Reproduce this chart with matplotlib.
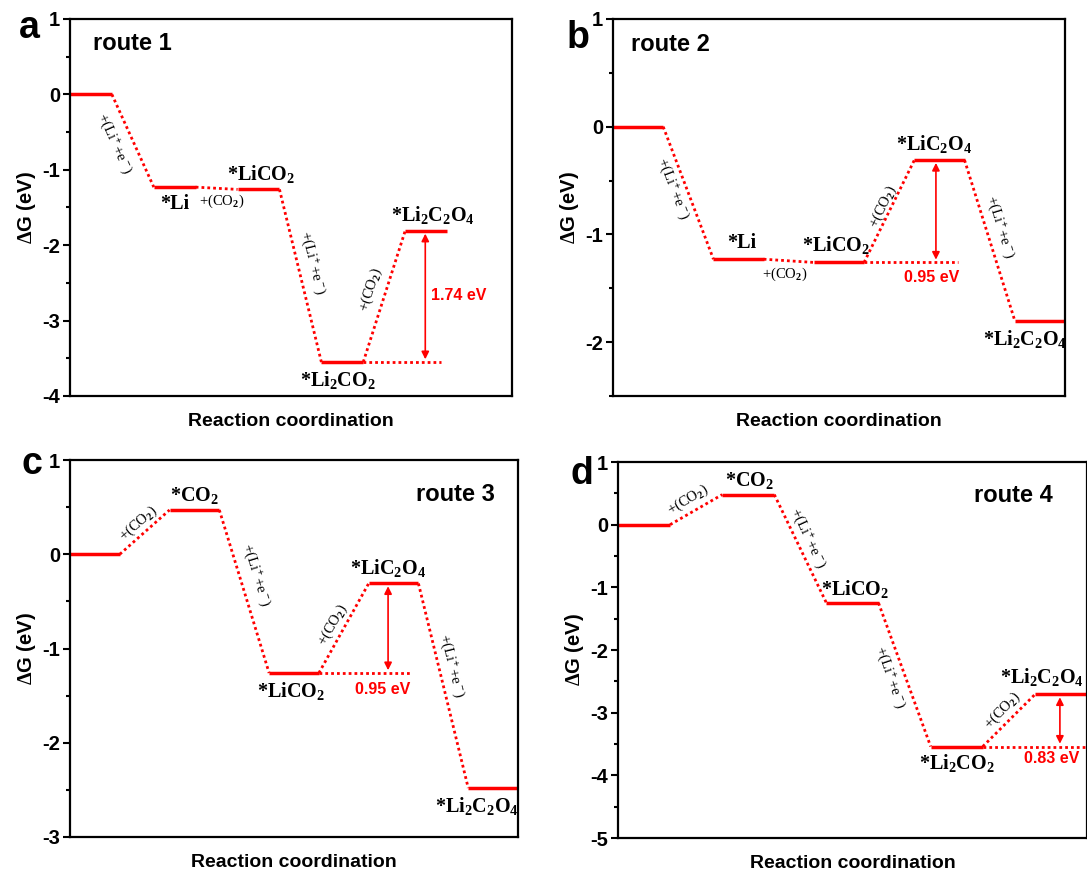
import matplotlib.pyplot as plt
from matplotlib.ticker import MultipleLocator

plt.rcParams['font.family'] = 'Liberation Sans'
plt.rcParams['font.weight'] = 'bold'
plt.rcParams['mathtext.fontset'] = 'custom'
plt.rcParams['mathtext.rm'] = 'Liberation Serif'
plt.rcParams['mathtext.it'] = 'Liberation Serif:italic'
plt.rcParams['mathtext.bf'] = 'Liberation Serif:bold'

# free energies (eV) of each intermediate along the routes
route1_dG = [0, -1.23, -1.26, -3.55, -1.81]
route2_dG = [0, -1.23, -1.26, -0.31, -1.80]
route3_dG = [0, 0.47, -1.26, -0.31, -2.48]
route4_dG = [0, 0.48, -1.25, -3.54, -2.71]

route1_species = ['', '*Li', r'*LiCO$_\mathbf{2}$', r'*Li$_\mathbf{2}$CO$_\mathbf{2}$',
                  r'*Li$_\mathbf{2}$C$_\mathbf{2}$O$_\mathbf{4}$']
route2_species = ['', '*Li', r'*LiCO$_\mathbf{2}$', r'*LiC$_\mathbf{2}$O$_\mathbf{4}$',
                  r'*Li$_\mathbf{2}$C$_\mathbf{2}$O$_\mathbf{4}$']
route3_species = ['', r'*CO$_\mathbf{2}$', r'*LiCO$_\mathbf{2}$', r'*LiC$_\mathbf{2}$O$_\mathbf{4}$',
                  r'*Li$_\mathbf{2}$C$_\mathbf{2}$O$_\mathbf{4}$']
route4_species = ['', r'*CO$_\mathbf{2}$', r'*LiCO$_\mathbf{2}$', r'*Li$_\mathbf{2}$CO$_\mathbf{2}$',
                  r'*Li$_\mathbf{2}$C$_\mathbf{2}$O$_\mathbf{4}$']

LI = r'+(Li$^+$+e$^-$)'
CO2 = r'+(CO$_2$)'
route1_steps = [LI, CO2, LI, CO2]
route2_steps = [LI, CO2, CO2, LI]
route3_steps = [CO2, LI, CO2, LI]
route4_steps = [CO2, LI, LI, CO2]

# barrier: (from level, to level)
route1_barrier = (3, 4)
route2_barrier = (2, 3)
route3_barrier = (2, 3)
route4_barrier = (3, 4)

RED = '#ff0000'
serif = 'Liberation Serif'


def draw_route(ax, dG):
    for i, g in enumerate(dG):
        ax.plot([2 * i, 2 * i + 1], [g, g], color=RED, lw=2.5, solid_capstyle='butt')
        if i > 0:
            ax.plot([2 * i - 1, 2 * i], [dG[i - 1], g], color=RED, lw=2, ls=(0, (1, 1.1)))


def draw_barrier(ax, dG, barrier, x_arrow, x_end, label, label_xy):
    lo, hi = barrier
    ax.plot([2 * lo + 1, x_end], [dG[lo], dG[lo]], color=RED, lw=2, ls=(0, (1, 1.1)))
    ax.annotate('', xy=(x_arrow, dG[hi]), xytext=(x_arrow, dG[lo]),
                arrowprops=dict(arrowstyle='<|-|>', color=RED, lw=1.2,
                                shrinkA=2, shrinkB=2, mutation_scale=11))
    ax.text(label_xy[0], label_xy[1], label, color=RED, fontsize=11.5,
            ha='center', va='center', fontweight='bold')


def style(ax, ylo, yhi, xmax):
    ax.set_xlim(0, xmax)
    ax.set_ylim(ylo, yhi)
    ax.yaxis.set_major_locator(MultipleLocator(1))
    ax.yaxis.set_minor_locator(MultipleLocator(0.5))
    ax.set_xticks([])
    ax.tick_params(axis='y', which='major', direction='out', length=5, width=1.5,
                   labelsize=14.5, pad=2)
    ax.tick_params(axis='y', which='minor', direction='out', length=3, width=1.5)
    for s in ax.spines.values():
        s.set_linewidth(1.6)
    ax.set_ylabel(r'$\mathbf{\Delta}$G (eV)', fontsize=14.5, fontweight='bold',
                  labelpad=3, fontfamily='Liberation Sans')
    ax.set_xlabel('Reaction coordination', fontsize=14, fontweight='bold', labelpad=12)
    ax.yaxis.set_major_formatter(plt.FuncFormatter(lambda v, p: '%d' % v))


def species(ax, x, y, s, va):
    ax.text(x, y, s, fontsize=14.5, fontfamily=serif, fontweight='bold',
            ha='center', va=va)


def step(ax, x, y, s, rot):
    ax.text(x, y, s, fontsize=10.5, fontfamily=serif, fontweight='normal',
            ha='center', va='center', rotation=rot, rotation_mode='anchor')


fig = plt.figure(figsize=(10.87, 8.77), dpi=100)
W, H = 1087, 877


def make_axes(l, r, t, b):
    return fig.add_axes([l / W, 1 - b / H, (r - l) / W, (b - t) / H])


axa = make_axes(70, 512, 19, 396)
axb = make_axes(613, 1065, 19, 396)
axc = make_axes(70, 518, 460, 837)
axd = make_axes(618, 1087, 462, 838)

# ---- route 1
ax = axa
draw_route(ax, route1_dG)
style(ax, -4, 1, 10.55)
species(ax, 2.5, route1_dG[1] - 0.09, route1_species[1], 'top')
species(ax, 4.56, route1_dG[2] + 0.06, route1_species[2], 'bottom')
species(ax, 6.39, route1_dG[3] - 0.09, route1_species[3], 'top')
species(ax, 8.65, route1_dG[4] + 0.07, route1_species[4], 'bottom')
step(ax, 1.07, -0.65, route1_steps[0], -66)
step(ax, 3.62, -1.42, route1_steps[1], 0)
step(ax, 5.79, -2.24, route1_steps[2], -76)
step(ax, 7.18, -2.59, route1_steps[3], 72)
draw_barrier(ax, route1_dG, route1_barrier, 8.48, 8.85, '1.74 eV', (9.27, -2.67))
ax.text(0.56, 0.67, 'route 1', fontsize=17, fontweight='bold', va='center')

# ---- route 2
ax = axb
draw_route(ax, route2_dG)
style(ax, -2.5, 1, 9)
species(ax, 2.57, route2_dG[1] + 0.06, route2_species[1], 'bottom')
species(ax, 4.43, route2_dG[2] + 0.06, route2_species[2], 'bottom')
species(ax, 6.4, route2_dG[3] + 0.05, route2_species[3], 'bottom')
species(ax, 8.2, route2_dG[4] - 0.07, route2_species[4], 'top')
step(ax, 1.2, -0.58, route2_steps[0], -69)
step(ax, 3.42, -1.37, route2_steps[1], 0)
step(ax, 5.37, -0.74, route2_steps[2], 64)
step(ax, 7.7, -0.93, route2_steps[3], -73)
draw_barrier(ax, route2_dG, route2_barrier, 6.43, 6.87, '0.95 eV', (6.35, -1.40))
ax.text(0.35, 0.76, 'route 2', fontsize=17, fontweight='bold', va='center')

# ---- route 3
ax = axc
draw_route(ax, route3_dG)
style(ax, -3, 1, 9)
species(ax, 2.5, route3_dG[1] + 0.04, route3_species[1], 'bottom')
species(ax, 4.43, route3_dG[2] - 0.07, route3_species[2], 'top')
species(ax, 6.39, route3_dG[3] + 0.05, route3_species[3], 'bottom')
species(ax, 8.17, route3_dG[4] - 0.07, route3_species[4], 'top')
step(ax, 1.37, 0.33, route3_steps[0], 41)
step(ax, 3.73, -0.22, route3_steps[1], -73)
step(ax, 5.27, -0.75, route3_steps[2], 60)
step(ax, 7.67, -1.19, route3_steps[3], -76)
draw_barrier(ax, route3_dG, route3_barrier, 6.39, 6.83, '0.95 eV', (6.29, -1.43))
ax.text(8.53, 0.63, 'route 3', fontsize=17, fontweight='bold', va='center', ha='right')

# ---- route 4
ax = axd
draw_route(ax, route4_dG)
style(ax, -5, 1, 9)
species(ax, 2.53, route4_dG[1] + 0.05, route4_species[1], 'bottom')
species(ax, 4.55, route4_dG[2] + 0.05, route4_species[2], 'bottom')
species(ax, 6.51, route4_dG[3] - 0.08, route4_species[3], 'top')
species(ax, 8.13, route4_dG[4] + 0.1, route4_species[4], 'bottom')
step(ax, 1.35, 0.39, route4_steps[0], 31)
step(ax, 3.65, -0.22, route4_steps[1], -65)
step(ax, 5.21, -2.44, route4_steps[2], -71)
step(ax, 7.38, -2.97, route4_steps[3], 46)
draw_barrier(ax, route4_dG, route4_barrier, 8.48, 9.0, '0.83 eV', (8.33, -3.73))
ax.text(8.35, 0.47, 'route 4', fontsize=17, fontweight='bold', va='center', ha='right')

# panel letters
for lab, x, y in [('a', 29, 38), ('b', 578, 48), ('c', 32, 474), ('d', 582, 484)]:
    fig.text(x / W, 1 - y / H, lab, fontsize=27, fontweight='bold', ha='center',
             va='baseline')

fig.savefig('out.png', dpi=100)
